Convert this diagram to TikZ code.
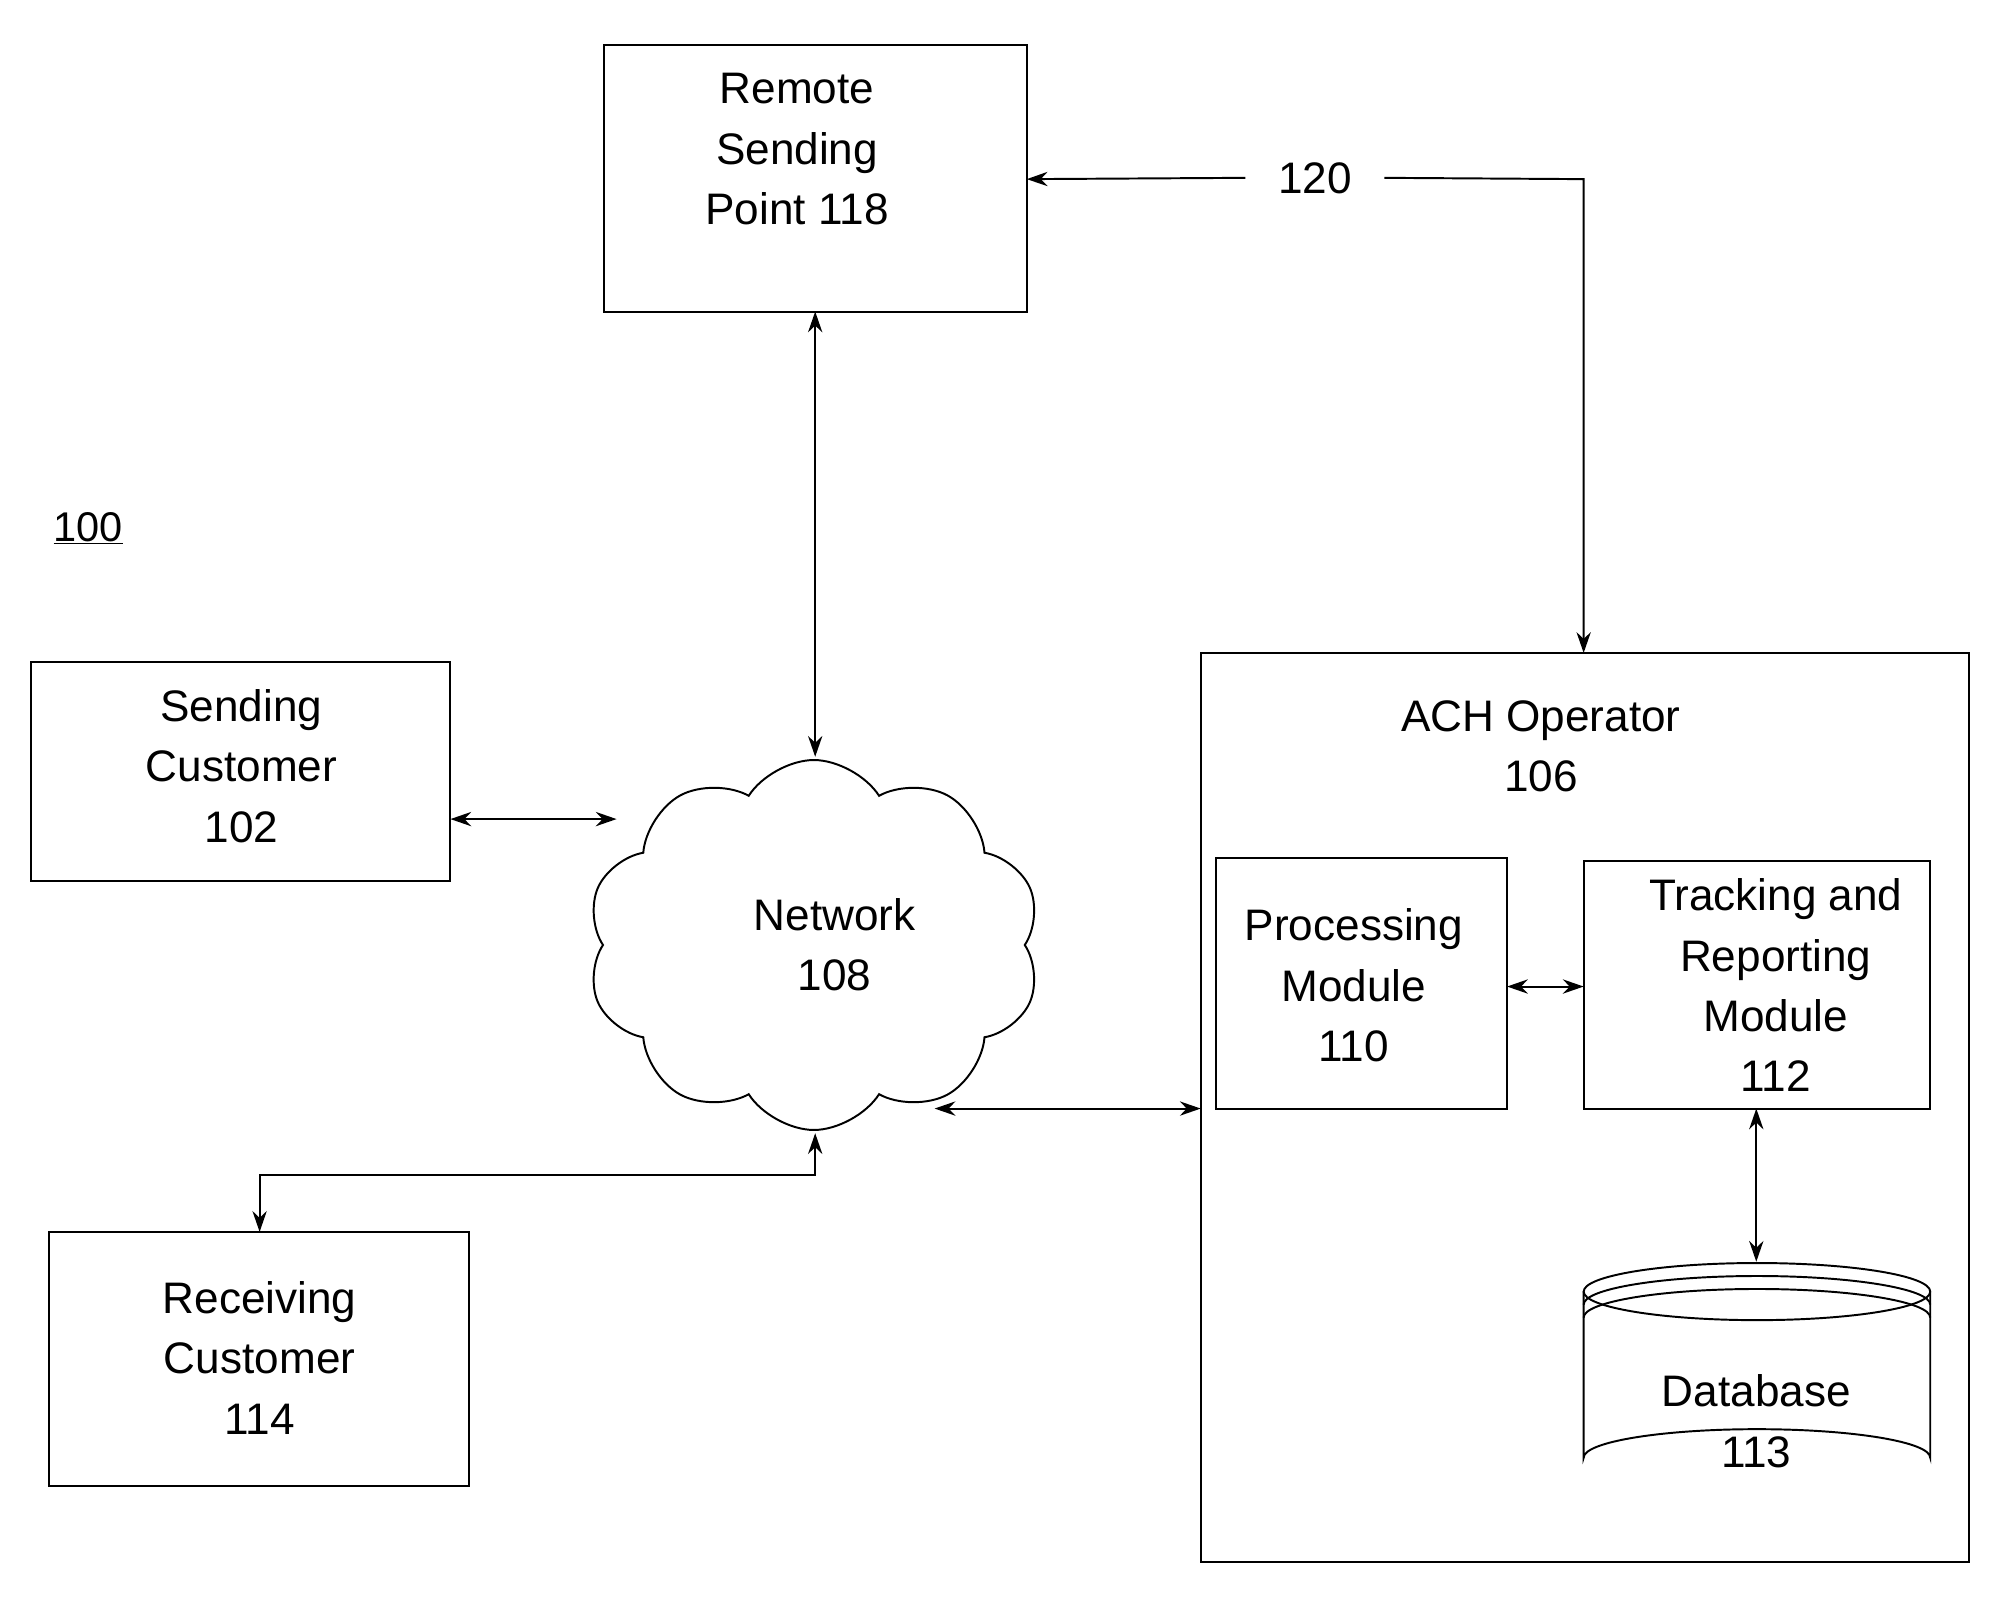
\documentclass[tikz,border=0pt]{standalone}
\usepackage{fontspec}
\setmainfont{Liberation Sans}
\usetikzlibrary{shapes.symbols,arrows.meta}
\begin{document}
\begin{tikzpicture}[x=1pt,y=-1pt,
  box/.style={draw,line width=1.5pt},
  lbl/.style={align=center,font=\fontsize{34}{46.5}\selectfont,inner sep=0pt},
  arr/.style={line width=1.5pt,{Stealth[length=16pt,width=11pt]}-{Stealth[length=16pt,width=11pt]}},
  sarr/.style={line width=1.5pt,-{Stealth[length=16pt,width=11pt]}}]
\useasboundingbox (0,0) rectangle (1550,1239);
\draw[box] (465,35) rectangle (791,240);
\node[lbl] (rsp) at (614,115) {Remote\\Sending\\Point 118};
\coordinate (rspB) at (628,240); \coordinate (rspR) at (791,138);
\draw[box] (24,510) rectangle (347,679);
\node[lbl] (sc) at (186,590) {Sending\\Customer\\102};
\coordinate (scR) at (347,631);
\draw[box] (38,949) rectangle (361,1145);
\node[lbl] (rc) at (200,1046) {Receiving\\Customer\\114};
\coordinate (rcT) at (200,949);
\draw[box] (925,503) rectangle (1517,1203);
\node[lbl] (ach) at (1187,575) {ACH Operator\\106};
\coordinate (achT) at (1220,503); \coordinate (achL) at (925,854);
\draw[box] (937,661) rectangle (1161,854);
\node[lbl] (pm) at (1043,759) {Processing\\Module\\110};
\draw[box] (1220,663) rectangle (1487,854);
\node[lbl] (tr) at (1368,759) {Tracking and\\Reporting\\Module\\112};
% database
\draw[box,fill=white] (1220,995) -- (1220,1123) arc[start angle=180,end angle=360,x radius=133.5,y radius=22] -- (1487,995);
\draw[box] (1353.5,995) ellipse[x radius=133.5,y radius=22];
\draw[box] (1220,1005) arc[start angle=180,end angle=360,x radius=133.5,y radius=22];
\draw[box] (1220,1015) arc[start angle=180,end angle=360,x radius=133.5,y radius=22];
\node[lbl] (db) at (1353,1095) {Database\\113};
\coordinate (dbT) at (1353,972);
\node[lbl] (n100) at (68,407) {\fontsize{32}{40}\selectfont\underline{100}};
\node[cloud,draw,line width=1.5pt,cloud puffs=10,cloud puff arc=115,aspect=1.25,minimum width=350pt,minimum height=285pt] (net) at (627,728) {};
\node[lbl] (nl) at (643,728) {Network\\108};
\node[lbl] (l120) at (1013,137) {120};
\coordinate (netT) at (628,583); \coordinate (netL) at (475,631);
\coordinate (netB) at (628,873); \coordinate (netR) at (720,854);
\draw[arr] (rspB) -- (netT);
\draw[arr] (scR) -- (netL);
\draw[arr] (netB) -- (628,905) -- (200,905) -- (rcT);
\draw[arr] (netR) -- (achL);
\draw[arr] (1161,760) -- (1220,760);
\draw[arr] (1353,854) -- (dbT);
\draw[sarr] (l120.west) ++(-25,0) -- (rspR);
\draw[sarr] (l120.east) ++(25,0) -- (1220,138) -- (achT);
\end{tikzpicture}
\end{document}
